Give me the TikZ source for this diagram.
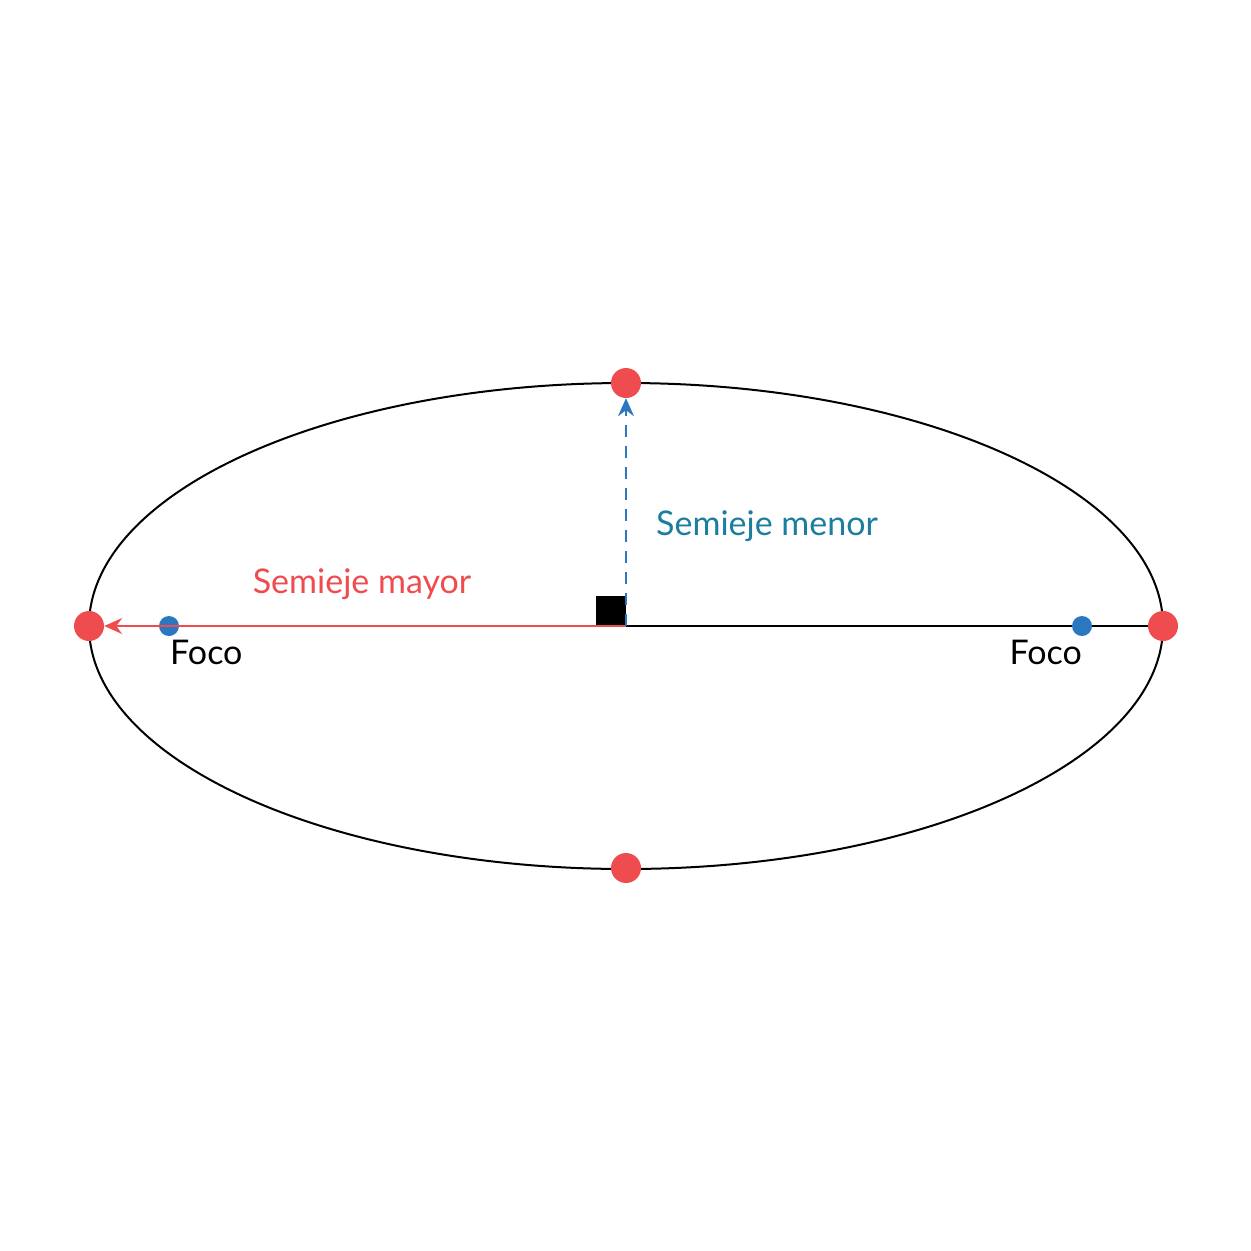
\documentclass[tikz,border=0pt]{standalone}
\usepackage{fontspec}
\setmainfont{Lato}
\usetikzlibrary{arrows.meta}
\definecolor{vred}{HTML}{EE4C4E}
\definecolor{fblue}{HTML}{2B77C0}
\definecolor{tblue}{HTML}{1C7D9E}
\begin{document}
\begin{tikzpicture}[x=1pt,y=-1pt,
  vertex/.style={circle,fill=vred,inner sep=0pt,minimum size=30pt},
  focus/.style={circle,fill=fblue,inner sep=0pt,minimum size=20pt},
  lbl/.style={font=\fontsize{34}{40}\selectfont,inner sep=0pt},
  tip/.style={-{Stealth[length=18pt,width=16pt,inset=6pt]}}]
\useasboundingbox (0,0) rectangle (1251,1251);
\coordinate (C) at (626,626);
\draw[line width=2pt] (C) ellipse [x radius=537, y radius=243];
\fill (596,596) rectangle (626,626);
\node[vertex] (L) at (89,626) {};
\node[vertex] (R) at (1163,626) {};
\node[vertex] (T) at (626,383) {};
\node[vertex] (B) at (626,868) {};
\draw[line width=2pt] (C) -- (R);
\node[focus] (F1) at (169,626) {};
\node[focus] (F2) at (1082,626) {};
\draw[vred,line width=2pt,tip] (C) -- (L);
\draw[fblue,line width=2pt,dash pattern=on 12pt off 9pt,tip] (C) -- (T);
\node[lbl,text=vred,anchor=base] (SM) at (362,593) {Semieje mayor};
\node[lbl,text=tblue,anchor=base west] (Sm) at (656,535) {Semieje menor};
\node[lbl,anchor=base west] (FL) at (170,664) {Foco};
\node[lbl,anchor=base east] (FR) at (1082,664) {Foco};
\end{tikzpicture}
\end{document}
